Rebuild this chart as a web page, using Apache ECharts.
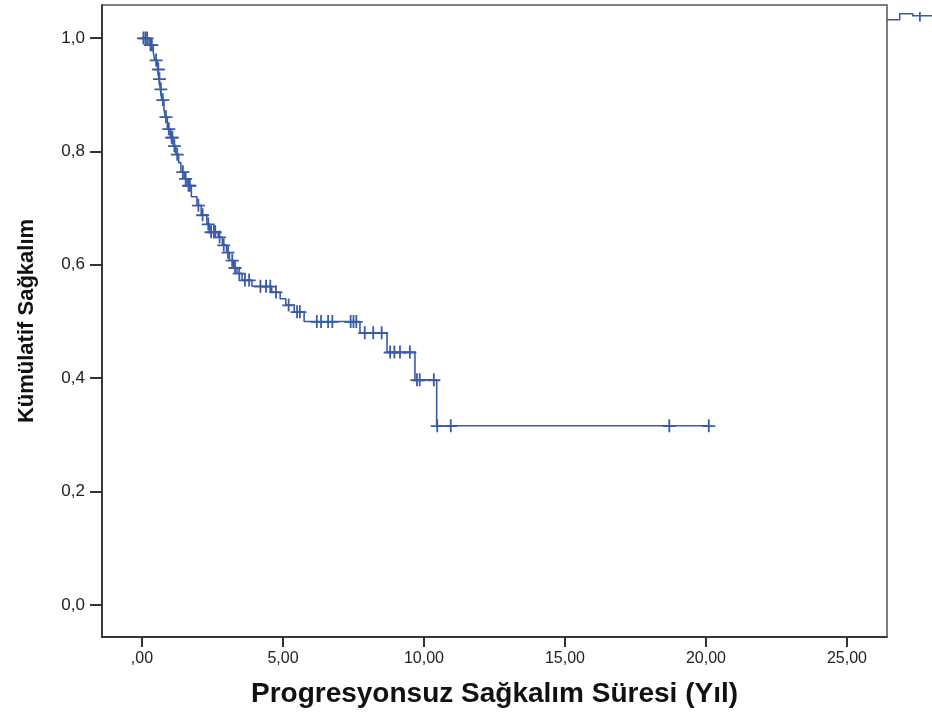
<!DOCTYPE html>
<html>
<head>
<meta charset="utf-8">
<title>Kaplan-Meier</title>
<script src="https://cdn.jsdelivr.net/npm/echarts@6/dist/echarts.min.js"></script>
<style>
  html, body { margin: 0; padding: 0; background: #fff; }
  #chart { width: 932px; height: 718px; }
</style>
</head>
<body>
<div id="chart"></div>
<script>
// olay zamanlari (yil) ve olaydan sonraki kumulatif sagkalim
const eventTimes = [0, 0.25, 0.4, 0.45, 0.55, 0.6, 0.65, 0.7, 0.78, 0.82, 0.9, 1.0, 1.1, 1.2, 1.3, 1.38,
  1.5, 1.6, 1.75, 1.95, 2.1, 2.3, 2.4, 2.7, 2.85, 3.0, 3.1, 3.25, 3.37, 3.55, 3.9, 4.6, 4.9, 5.1,
  5.4, 5.75, 7.73, 8.69, 9.68, 10.45];
const survival = [1.0, 0.988, 0.975, 0.961, 0.945, 0.928, 0.91, 0.891, 0.875, 0.861, 0.84, 0.825, 0.81,
  0.795, 0.78, 0.764, 0.752, 0.74, 0.72, 0.705, 0.688, 0.672, 0.658, 0.649, 0.635, 0.622, 0.608,
  0.595, 0.585, 0.573, 0.562, 0.552, 0.54, 0.529, 0.517, 0.5, 0.48, 0.446, 0.397, 0.316];
// sansurlu gozlemler (yil)
const censorTimes = [0.05, 0.12, 0.18, 0.3, 0.35, 0.5, 0.58, 0.62, 0.67, 0.74, 0.85, 0.95, 1.05, 1.08,
  1.15, 1.25, 1.45, 1.55, 1.65, 1.7, 2.0, 2.15, 2.35, 2.45, 2.55, 2.6, 2.75, 2.9, 3.05, 3.2, 3.3,
  3.45, 3.65, 3.8, 4.2, 4.4, 4.55, 4.75, 5.2, 5.5, 5.6, 6.2, 6.35, 6.6, 6.75, 7.4, 7.5, 7.6, 7.9,
  8.2, 8.5, 8.8, 8.95, 9.15, 9.5, 9.75, 9.85, 10.35, 10.47, 10.95, 18.7, 20.1];

const xTickValues = [0, 5, 10, 15, 20, 25];
const xTickLabels = [',00', '5,00', '10,00', '15,00', '20,00', '25,00'];
const yTickValues = [0, 0.2, 0.4, 0.6, 0.8, 1.0];
const yTickLabels = ['0,0', '0,2', '0,4', '0,6', '0,8', '1,0'];

const blue = '#3b5ba8';
const plusPath = 'path://M0,6H13V7.8H0Z M5.6,0H7.4V13H5.6Z';
const legendPath = 'path://M0,7H13V8.5H0Z M12,1H13.5V8.5H12Z M12,1H26V2.5H12Z M25,1H26.5V4.5H25Z M25,3H45V4.5H25Z M32,0H33.8V9.5H32Z';

function levelAt(t) {
  let s = survival[0];
  for (let i = 0; i < eventTimes.length; i++) {
    if (eventTimes[i] <= t) s = survival[i];
  }
  return s;
}

const kmLine = eventTimes.map((t, i) => [t, survival[i]]);
kmLine.push([censorTimes[censorTimes.length - 1], levelAt(censorTimes[censorTimes.length - 1])]);
const censorPoints = censorTimes.map(t => [t, levelAt(t)]);

const chart = echarts.init(document.getElementById('chart'));
chart.setOption({
  animation: false,
  backgroundColor: '#fff',
  textStyle: { fontFamily: 'Liberation Sans, Arial, sans-serif' },
  legend: {
    left: 887, top: 12, padding: 0,
    itemWidth: 45, itemHeight: 9.5,
    formatter: () => '',
    data: [{ name: 'Sağkalım Fonksiyonu', icon: legendPath }]
  },
  grid: {
    left: 102, right: 45, top: 5, bottom: 81,
    show: true, borderColor: '#555', borderWidth: 1.5, backgroundColor: '#fff'
  },
  xAxis: {
    type: 'value', min: -1.418, max: 26.42,
    axisLine: { show: true, onZero: false, lineStyle: { color: '#222', width: 1.5 } },
    axisTick: { show: true, length: 10, customValues: xTickValues, lineStyle: { color: '#333', width: 2 } },
    axisLabel: {
      customValues: xTickValues, margin: 14, fontSize: 16, color: '#222',
      formatter: v => xTickLabels[xTickValues.indexOf(v)]
    },
    splitLine: { show: false },
    name: 'Progresyonsuz Sağkalım Süresi (Yıl)',
    nameLocation: 'middle', nameGap: 43,
    nameTextStyle: { fontSize: 28, fontWeight: 'bold', color: '#111' }
  },
  yAxis: {
    type: 'value', min: -0.0564, max: 1.058,
    axisLine: { show: true, onZero: false, lineStyle: { color: '#222', width: 1.5 } },
    axisTick: { show: true, length: 12, customValues: yTickValues, lineStyle: { color: '#333', width: 2 } },
    axisLabel: {
      customValues: yTickValues, margin: 17, fontSize: 17, color: '#222',
      formatter: v => yTickLabels[yTickValues.indexOf(Math.round(v * 10) / 10)]
    },
    splitLine: { show: false },
    name: 'Kümülatif Sağkalım',
    nameLocation: 'middle', nameGap: 64, nameRotate: 90,
    nameTextStyle: { fontSize: 22, fontWeight: 'bold', color: '#111' }
  },
  series: [
    {
      type: 'line', step: 'end', data: kmLine,
      showSymbol: false, silent: true,
      lineStyle: { color: blue, width: 1.6 }
    },
    {
      name: 'Sağkalım Fonksiyonu',
      type: 'scatter', data: censorPoints,
      symbol: plusPath, symbolSize: 13,
      itemStyle: { color: blue, opacity: 1 }
    }
  ]
});
</script>
</body>
</html>
